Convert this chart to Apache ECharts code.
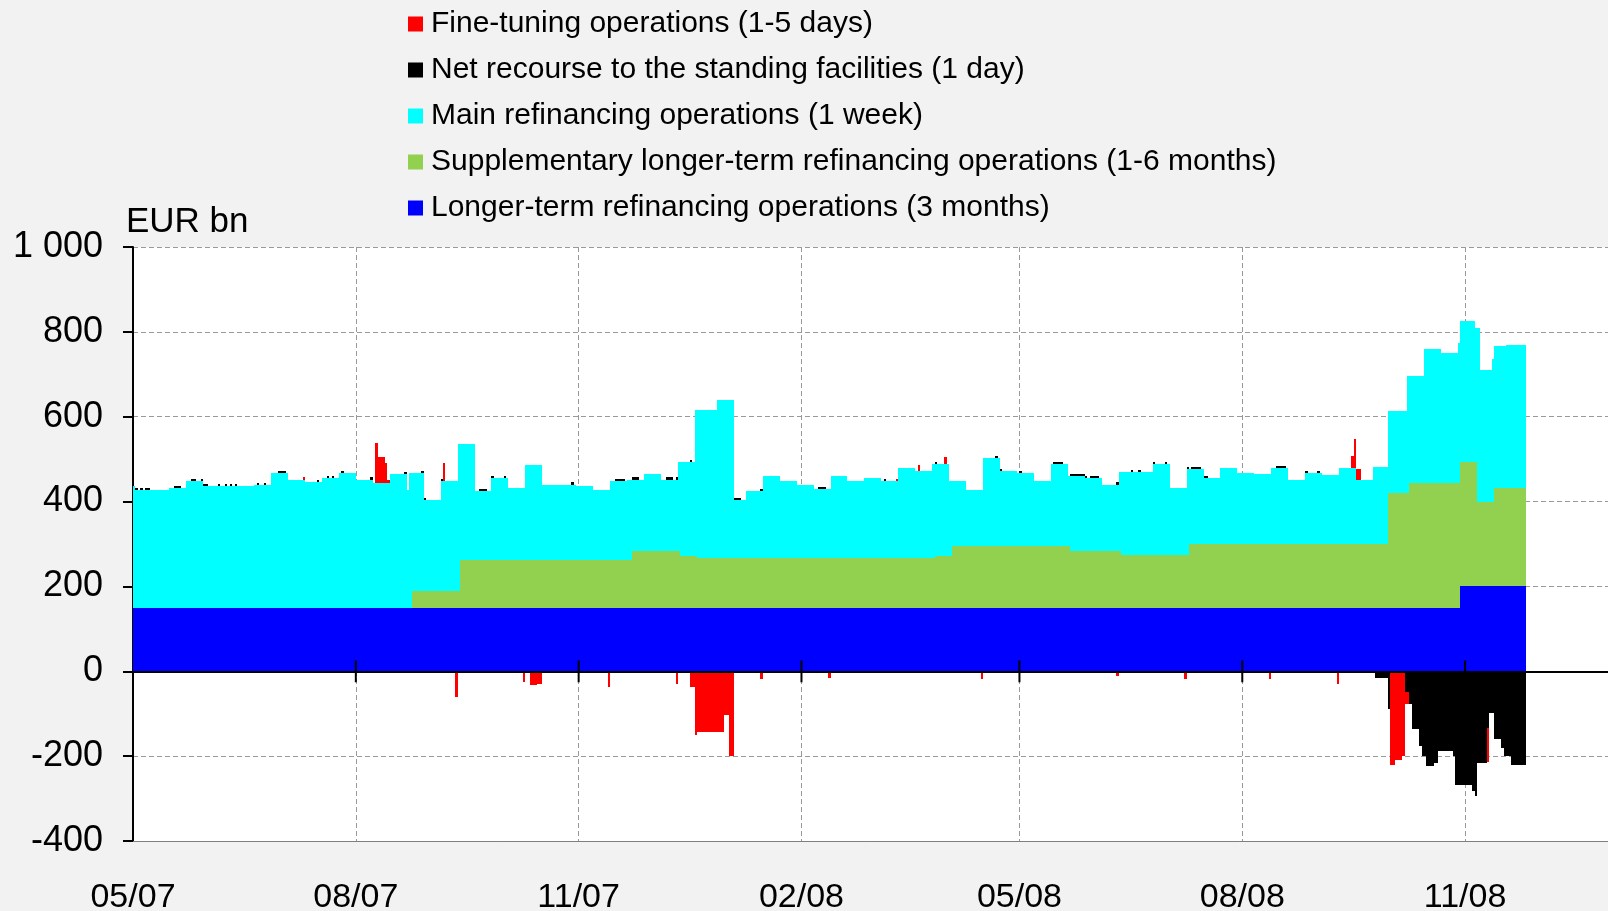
<!DOCTYPE html>
<html>
<head>
<meta charset="utf-8">
<script src="https://cdn.jsdelivr.net/npm/echarts@6/dist/echarts.min.js"></script>
<style>
  html, body { margin: 0; padding: 0; background: #f2f2f2; }
  #chart { width: 1608px; height: 911px; }
</style>
</head>
<body>
<div id="chart"></div>
<script>
// EUR bn, daily outstanding amounts
const dataEnd = '2008-11-26';

const ltroDates = ['2007-05-01', '2008-10-30'];
const ltroValues = [150, 200];

const sltroDates = ['2007-05-01', '2007-08-24', '2007-09-13', '2007-11-23', '2007-12-13', '2007-12-20',
  '2008-03-27', '2008-04-03', '2008-05-22', '2008-06-12', '2008-07-10', '2008-09-30', '2008-10-09',
  '2008-10-30', '2008-11-06', '2008-11-13'];
const sltroValues = [0, 40, 113, 133, 121, 117, 121, 145, 133, 125, 149, 271, 293, 294, 198, 233];

const mroDates = [
  '2007-05-01', '2007-05-02', '2007-05-16', '2007-05-23', '2007-05-30', '2007-06-13', '2007-06-20',
  '2007-06-27', '2007-07-04', '2007-07-11', '2007-07-18', '2007-07-25', '2007-08-01', '2007-08-08',
  '2007-08-15', '2007-08-22', '2007-08-23', '2007-08-24', '2007-08-29', '2007-09-05', '2007-09-12',
  '2007-09-13', '2007-09-19', '2007-09-26', '2007-10-03', '2007-10-10', '2007-10-17', '2007-10-31',
  '2007-11-07', '2007-11-14', '2007-11-21', '2007-11-23', '2007-11-28', '2007-12-05', '2007-12-12',
  '2007-12-13', '2007-12-19', '2007-12-20', '2007-12-28', '2008-01-04', '2008-01-09', '2008-01-16',
  '2008-01-23', '2008-01-30', '2008-02-06', '2008-02-13', '2008-02-20', '2008-02-27', '2008-03-05',
  '2008-03-12', '2008-03-19', '2008-03-26', '2008-03-27', '2008-04-02', '2008-04-03', '2008-04-09',
  '2008-04-16', '2008-04-23', '2008-04-30', '2008-05-07', '2008-05-14', '2008-05-21', '2008-05-22',
  '2008-05-28', '2008-06-04', '2008-06-11', '2008-06-12', '2008-06-25', '2008-07-02', '2008-07-09',
  '2008-07-10', '2008-07-16', '2008-07-23', '2008-07-30', '2008-08-06', '2008-08-13', '2008-08-20',
  '2008-08-27', '2008-09-03', '2008-09-10', '2008-09-17', '2008-09-24', '2008-09-30', '2008-10-08',
  '2008-10-09', '2008-10-15', '2008-10-22', '2008-10-29', '2008-10-30', '2008-11-05', '2008-11-06',
  '2008-11-07', '2008-11-12', '2008-11-13', '2008-11-18'];
const mroValues = [
  286, 278, 282, 298, 286, 287, 289,
  318, 302, 296, 306, 318, 302, 294,
  314, 278, 318, 278, 213, 258, 346,
  273, 162, 193, 169, 224, 177, 173,
  165, 185, 189, 169, 181, 169, 210,
  222, 346, 350, 373, 136, 157, 193,
  181, 173, 163, 193, 181, 189, 181,
  213, 205, 221, 217, 177, 153, 133,
  208, 177, 173, 153, 193, 165, 177,
  173, 157, 186, 194, 213, 157, 201,
  177, 157, 181, 169, 165, 181, 153,
  169, 164, 179, 152, 183, 192, 275,
  253, 316, 308, 330, 331, 316, 412,
  313, 337, 333, 337];

// [start, end, value]
const fineTuning = [
  ['2007-05-14', '2007-05-15', -3], ['2007-07-10', '2007-07-11', 5],
  ['2007-08-09', '2007-08-10', 95], ['2007-08-10', '2007-08-13', 61],
  ['2007-08-13', '2007-08-14', 47], ['2007-08-14', '2007-08-15', 8],
  ['2007-09-06', '2007-09-07', 42], ['2007-09-11', '2007-09-12', -60],
  ['2007-10-09', '2007-10-10', -25], ['2007-10-12', '2007-10-15', -33],
  ['2007-10-15', '2007-10-17', -29], ['2007-11-13', '2007-11-14', -36],
  ['2007-12-06', '2007-12-11', -4], ['2007-12-11', '2007-12-12', -29],
  ['2007-12-17', '2007-12-19', -37], ['2007-12-19', '2007-12-20', -151],
  ['2007-12-20', '2007-12-31', -143], ['2007-12-31', '2008-01-02', -104],
  ['2008-01-02', '2008-01-04', -200], ['2008-01-15', '2008-01-16', -18],
  ['2008-02-12', '2008-02-13', -16], ['2008-03-11', '2008-03-12', 6],
  ['2008-03-20', '2008-03-21', 15], ['2008-03-31', '2008-04-01', 16],
  ['2008-04-15', '2008-04-16', -18], ['2008-06-10', '2008-06-11', -11],
  ['2008-07-08', '2008-07-09', -18], ['2008-08-12', '2008-08-13', -18],
  ['2008-09-09', '2008-09-10', -30], ['2008-09-15', '2008-09-16', 30],
  ['2008-09-16', '2008-09-17', 70], ['2008-09-17', '2008-09-19', 25],
  ['2008-10-01', '2008-10-03', -217], ['2008-10-03', '2008-10-06', -203],
  ['2008-10-06', '2008-10-07', -195], ['2008-10-07', '2008-10-09', -30],
  ['2008-11-10', '2008-11-11', -81]
];

const standingFacilities = [
  ['2007-05-02', '2007-05-03', 5], ['2007-05-04', '2007-05-05', 5], ['2007-05-06', '2007-05-08', 5],
  ['2007-05-18', '2007-05-21', 5], ['2007-05-25', '2007-05-27', 5], ['2007-05-29', '2007-06-01', 5],
  ['2007-06-05', '2007-06-06', 5], ['2007-06-08', '2007-06-09', 5], ['2007-06-10', '2007-06-11', 5],
  ['2007-06-12', '2007-06-13', 5], ['2007-06-21', '2007-06-22', 5], ['2007-06-24', '2007-06-25', 5],
  ['2007-06-30', '2007-07-03', 5], ['2007-07-16', '2007-07-17', 5], ['2007-07-20', '2007-07-21', 5],
  ['2007-07-22', '2007-07-23', 5], ['2007-07-26', '2007-07-27', 5], ['2007-08-07', '2007-08-08', 5],
  ['2007-08-21', '2007-08-22', 5], ['2007-08-28', '2007-08-30', 5], ['2007-09-05', '2007-09-06', 5],
  ['2007-09-21', '2007-09-24', 5], ['2007-09-26', '2007-09-27', 5], ['2007-10-01', '2007-10-02', 5],
  ['2007-10-29', '2007-10-30', 5], ['2007-11-16', '2007-11-20', 5], ['2007-11-23', '2007-11-26', 5],
  ['2007-12-07', '2007-12-10', 5], ['2007-12-11', '2007-12-12', 5], ['2007-12-17', '2007-12-18', 5],
  ['2008-01-04', '2008-01-07', 5], ['2008-01-15', '2008-01-16', 5], ['2008-02-08', '2008-02-11', 5],
  ['2008-03-06', '2008-03-07', 5], ['2008-03-27', '2008-03-28', 5], ['2008-04-21', '2008-04-22', 5],
  ['2008-04-23', '2008-04-24', 5], ['2008-05-01', '2008-05-02', 5], ['2008-05-15', '2008-05-19', 5],
  ['2008-05-22', '2008-05-29', 5], ['2008-05-30', '2008-06-03', 5], ['2008-06-10', '2008-06-11', 5],
  ['2008-06-16', '2008-06-17', 5], ['2008-06-19', '2008-06-20', 5], ['2008-06-25', '2008-06-26', 5],
  ['2008-06-30', '2008-07-01', 5], ['2008-07-09', '2008-07-10', 5], ['2008-07-11', '2008-07-15', 5],
  ['2008-07-16', '2008-07-18', 5], ['2008-08-15', '2008-08-19', 5], ['2008-08-27', '2008-08-28', 5],
  ['2008-09-01', '2008-09-02', 5],
  ['2008-09-25', '2008-09-30', -15], ['2008-09-30', '2008-10-01', -88], ['2008-10-01', '2008-10-07', -5],
  ['2008-10-07', '2008-10-09', -48], ['2008-10-09', '2008-10-10', -78], ['2008-10-10', '2008-10-13', -137],
  ['2008-10-13', '2008-10-14', -176], ['2008-10-14', '2008-10-16', -200], ['2008-10-16', '2008-10-19', -223],
  ['2008-10-19', '2008-10-21', -216], ['2008-10-21', '2008-10-27', -188], ['2008-10-27', '2008-10-28', -200],
  ['2008-10-28', '2008-11-04', -267], ['2008-11-04', '2008-11-05', -282], ['2008-11-05', '2008-11-06', -294],
  ['2008-11-06', '2008-11-10', -216], ['2008-11-10', '2008-11-11', -133], ['2008-11-11', '2008-11-13', -98],
  ['2008-11-13', '2008-11-16', -160], ['2008-11-16', '2008-11-17', -180], ['2008-11-17', '2008-11-20', -200],
  ['2008-11-20', '2008-11-26', -222]
];

const quarterTicks = ['2007-05-01', '2007-08-01', '2007-11-01', '2008-02-01', '2008-05-01', '2008-08-01', '2008-11-01'];

const names = {
  ft: 'Fine-tuning operations (1-5 days)',
  sf: 'Net recourse to the standing facilities (1 day)',
  mro: 'Main refinancing operations (1 week)',
  sltro: 'Supplementary longer-term refinancing operations (1-6 months)',
  ltro: 'Longer-term refinancing operations (3 months)'
};

const FONT = "'Liberation Sans', Arial, sans-serif";

function T(s) {
  return Date.UTC(+s.slice(0, 4), +s.slice(5, 7) - 1, +s.slice(8, 10));
}

function stepPieces(dates, values) {
  return dates.map((d, i) => [T(d), T(i + 1 < dates.length ? dates[i + 1] : dataEnd), values[i]]);
}

function eventPieces(list) {
  return list.map(e => [T(e[0]), T(e[1]), e[2]]);
}

// bottom to top; negatives stack downward from zero in the same order
const layers = [
  { name: names.ltro, color: '#0000ff', pieces: stepPieces(ltroDates, ltroValues) },
  { name: names.sltro, color: '#92d050', pieces: stepPieces(sltroDates, sltroValues) },
  { name: names.mro, color: '#00ffff', pieces: stepPieces(mroDates, mroValues) },
  { name: names.sf, color: '#000000', pieces: eventPieces(standingFacilities) },
  { name: names.ft, color: '#ff0000', pieces: eventPieces(fineTuning) }
];

function buildStack(layers) {
  const set = new Set();
  layers.forEach(l => l.pieces.forEach(p => { set.add(p[0]); set.add(p[1]); }));
  const b = Array.from(set).sort((a, c) => a - c);
  const out = layers.map(() => []);
  for (let i = 0; i < b.length - 1; i++) {
    const t0 = b[i], t1 = b[i + 1], mid = (t0 + t1) / 2;
    let pos = 0, neg = 0;
    layers.forEach((l, k) => {
      let v = 0;
      l.pieces.forEach(p => { if (p[0] <= mid && mid < p[1]) v += p[2]; });
      if (!v) return;
      let lo, hi;
      if (v > 0) { lo = pos; hi = pos + v; pos = hi; }
      else { hi = neg; lo = neg + v; neg = lo; }
      const arr = out[k];
      const last = arr[arr.length - 1];
      if (last && last[1] === t0 && last[2] === lo && last[3] === hi) last[1] = t1;
      else arr.push([t0, t1, lo, hi]);
    });
  }
  return out;
}

const stacked = buildStack(layers);

function rectSeries(layer, data) {
  return {
    name: layer.name,
    type: 'custom',
    data: data,
    itemStyle: { color: layer.color },
    encode: { x: [0, 1], y: [2, 3] },
    silent: true,
    renderItem: function (params, api) {
      const a = api.coord([api.value(0), api.value(3)]);
      const b = api.coord([api.value(1), api.value(2)]);
      // snap to whole pixels so neighbouring pieces join without seams
      const x0 = Math.round(a[0]), x1 = Math.max(Math.round(b[0]), x0 + 1);
      const y0 = Math.round(a[1]), y1 = Math.max(Math.round(b[1]), y0 + 1);
      return {
        type: 'rect',
        shape: { x: x0, y: y0, width: x1 - x0, height: y1 - y0 },
        style: { fill: layer.color }
      };
    }
  };
}

const series = layers.map((l, k) => rectSeries(l, stacked[k]));

// quarterly ticks crossing the zero line
series.push({
  type: 'custom',
  z: 10,
  silent: true,
  data: quarterTicks.slice(1).map(d => [T(d), 0]),
  encode: { x: 0, y: 1 },
  renderItem: function (params, api) {
    const p = api.coord([api.value(0), 0]);
    return {
      type: 'line',
      shape: { x1: p[0], y1: p[1] - 11, x2: p[0], y2: p[1] + 11 },
      style: { stroke: '#000', lineWidth: 2 }
    };
  }
});
// zero line
series.push({
  type: 'line',
  data: [],
  markLine: {
    silent: true,
    symbol: 'none',
    label: { show: false },
    lineStyle: { color: '#000', width: 2, type: 'solid' },
    data: [{ yAxis: 0 }]
  }
});

const chart = echarts.init(document.getElementById('chart'));
chart.setOption({
  animation: false,
  backgroundColor: '#f2f2f2',
  textStyle: { fontFamily: FONT, color: '#000' },
  grid: {
    left: 133, right: 0, top: 247, bottom: 70,
    outerBoundsMode: 'none',
    show: true, backgroundColor: '#ffffff', borderWidth: 0
  },
  legend: {
    orient: 'vertical',
    left: 408,
    top: 9,
    padding: 0,
    itemWidth: 15,
    itemHeight: 15,
    itemGap: 16,
    icon: 'rect',
    selectedMode: false,
    textStyle: { fontSize: 30, fontFamily: FONT, color: '#000', padding: [0, 0, 0, 3] },
    data: [names.ft, names.sf, names.mro, names.sltro, names.ltro]
  },
  graphic: [{
    type: 'text',
    left: 126,
    top: 205,
    style: { text: 'EUR bn', fontSize: 35, fontFamily: FONT, fill: '#000' }
  }],
  xAxis: {
    type: 'value',
    min: T('2007-05-01'),
    max: T('2008-12-30'),
    axisLine: { onZero: false, lineStyle: { color: '#808080', width: 1 } },
    axisTick: { show: false, customValues: quarterTicks.map(T) },
    splitLine: { show: true, lineStyle: { color: '#9a9a9a', type: [5, 3], width: 1 } },
    axisLabel: {
      customValues: quarterTicks.map(T),
      fontSize: 34,
      fontFamily: FONT,
      color: '#000',
      margin: 40,
      formatter: function (v) {
        const d = new Date(v);
        const m = String(d.getUTCMonth() + 1).padStart(2, '0');
        const y = String(d.getUTCFullYear()).slice(2);
        return m + '/' + y;
      }
    }
  },
  yAxis: {
    type: 'value',
    min: -400,
    max: 1000,
    interval: 200,
    axisLine: { show: true, lineStyle: { color: '#000', width: 2 } },
    axisTick: { show: true, length: 10, lineStyle: { color: '#000', width: 2 } },
    splitLine: { show: true, lineStyle: { color: '#9a9a9a', type: [5, 3], width: 1 } },
    axisLabel: {
      fontSize: 36,
      fontFamily: FONT,
      color: '#000',
      margin: 30,
      padding: [10, 0, 0, 0],
      formatter: function (v) { return v === 1000 ? '1 000' : String(v); }
    }
  },
  series: series
});
</script>
</body>
</html>
